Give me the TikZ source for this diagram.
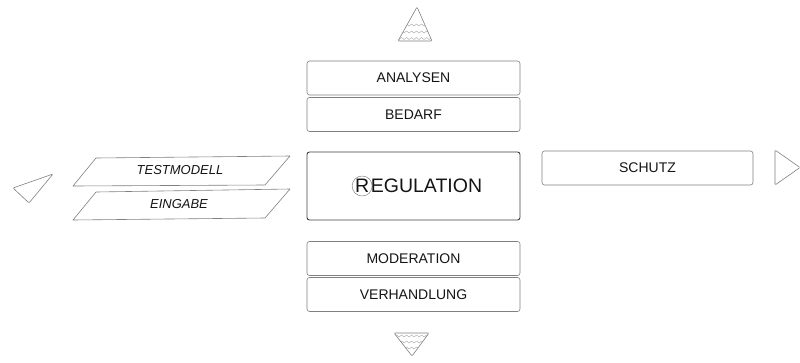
\documentclass[tikz,border=0pt]{standalone}
\usepackage{fontspec}
\setmainfont{Liberation Sans}
\usetikzlibrary{decorations.pathmorphing}
\definecolor{linegray}{gray}{0.5}
\definecolor{darkline}{gray}{0.25}
\definecolor{txt}{gray}{0.08}
\begin{document}
\begin{tikzpicture}[x=1pt,y=-1pt,
  box/.style={draw=linegray, line width=0.6pt, rounded corners=2.5pt, minimum width=213pt, minimum height=34pt, inner sep=0pt, text=txt, font=\fontsize{14}{16}\selectfont},
  bigbox/.style={draw=darkline, line width=0.9pt, rounded corners=2.5pt, minimum width=213pt, minimum height=68pt, inner sep=0pt, text=txt, font=\fontsize{19.5}{22}\selectfont},
  para/.style={draw=linegray, line width=0.6pt, line join=round},
  paratext/.style={text=txt, font=\fontsize{13}{15}\selectfont\itshape, inner sep=0pt},
  tri/.style={draw=linegray, line width=0.6pt, line join=round, rounded corners=1pt},
  wave/.style={draw=gray!70, line width=0.4pt, decorate, decoration={snake, segment length=5pt, amplitude=1pt}}
]
\useasboundingbox (0,0) rectangle (800,362);

% central column
\node[box] (analysen) at (413.5,78) {ANALYSEN};
\node[box] (bedarf) at (413.5,114.5) {BEDARF};
\node[bigbox] (regulation) at (413.5,186) {\hspace*{7pt}\raisebox{-2pt}{\tikz[baseline=(r.base)]\node[circle, draw=linegray, line width=0.5pt, inner sep=0pt, minimum size=20pt, font=\fontsize{19.5}{22}\selectfont] (r) {R};}\kern-1.5pt\raisebox{-2pt}{EGULATION}};
\node[box] (moderation) at (413.5,258.5) {MODERATION};
\node[box] (verhandlung) at (413.5,294.5) {VERHANDLUNG};

% right
\node[box, minimum width=211pt] (schutz) at (647.5,168) {SCHUTZ};

% parallelograms
\draw[para] (73,186) -- (96,158) -- (290,156) -- (265,185) -- cycle;
\node[paratext] (testmodell) at (180,170.5) {TESTMODELL};
\draw[para] (73,220) -- (96,192) -- (290,189) -- (265,218) -- cycle;
\node[paratext] (eingabe) at (179,204) {EINGABE};

% left triangle
\draw[tri] (13,188) -- (53,174) -- (29,203) -- cycle;
% right triangle
\draw[tri] (775,150) -- (800,167.5) -- (775,185) -- cycle;

% top triangle with waves
\begin{scope}
\clip (417,7) -- (398,41) -- (432,41) -- cycle;
\draw[wave] (395,25) -- (440,25);
\draw[wave] (395,32) -- (440,32);
\draw[wave] (395,38.5) -- (440,38.5);
\end{scope}
\draw[tri] (417,7) -- (398,41) -- (432,41) -- cycle;

% bottom triangle with waves
\begin{scope}
\clip (394,333) -- (429,333) -- (412,356) -- cycle;
\draw[wave] (390,336) -- (435,336);
\draw[wave] (390,342) -- (435,342);
\draw[wave] (390,348) -- (435,348);
\end{scope}
\draw[tri] (394,333) -- (429,333) -- (412,356) -- cycle;
\end{tikzpicture}
\end{document}
